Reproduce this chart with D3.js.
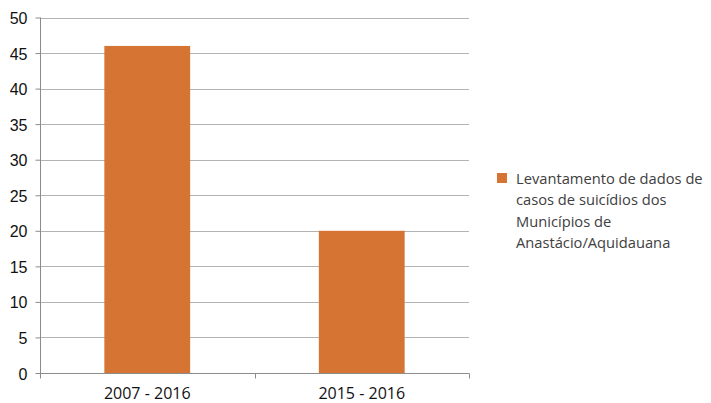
<!DOCTYPE html>
<html><head><meta charset="utf-8">
<script src="https://cdn.jsdelivr.net/npm/d3@7"></script>
<style>body{margin:0;background:#fff;} svg{display:block;font-family:"Open Sans","Noto Sans",sans-serif;}</style>
</head><body>
<svg id="c" width="711" height="403"></svg>
<script>
const categories = ["2007 - 2016", "2015 - 2016"];
const values = [46, 20];
const yTicks = [0, 5, 10, 15, 20, 25, 30, 35, 40, 45, 50];
const seriesName = ["Levantamento de dados de", "casos de suicídios dos", "Municípios de", "Anastácio/Aquidauana"];

(function () {
const svg = d3.select("#c");
const pL = 40, pR = 469, pT = 17.5, pB = 373;
const x = d3.scaleBand().domain(categories).range([pL, pR]).paddingInner(0.6).paddingOuter(0.3);
const xb = d3.scaleBand().domain(categories).range([pL, pR]);
const y = d3.scaleLinear().domain([0, 50]).range([pB, pT]);

// gridlines
svg.append("g").selectAll("line").data(yTicks.filter(d => d > 0)).join("line")
  .attr("x1", pL).attr("x2", pR)
  .attr("y1", d => Math.round(y(d)) + 0.5).attr("y2", d => Math.round(y(d)) + 0.5)
  .attr("stroke", "#b3b3b3").attr("stroke-width", 1);

// bars
svg.append("g").selectAll("rect").data(values).join("rect")
  .attr("x", (d, i) => x(categories[i]))
  .attr("width", x.bandwidth())
  .attr("y", d => y(d))
  .attr("height", d => y(0) - y(d))
  .attr("fill", "#d57433");

// y axis
const ya = svg.append("g").attr("transform", `translate(${pL + 0.5},0)`)
  .call(d3.axisLeft(y).tickValues(yTicks).tickSize(5).tickPadding(8));
ya.select(".domain").attr("stroke", "#8c8c8c").attr("d", `M0,${pT}V${pB + 5}`);
ya.selectAll(".tick line").attr("stroke", "#8c8c8c");
ya.selectAll(".tick text").attr("fill", "#111").style("font-size", "16px").attr("dy", "0.38em");

// x axis
const xa = svg.append("g").attr("transform", `translate(0,${Math.round(pB) + 0.5})`);
xa.append("line").attr("x1", pL).attr("x2", pR + 0.5).attr("stroke", "#8c8c8c");
const edges = [pL, ...categories.map(c => xb(c) + xb.bandwidth())];
xa.selectAll(".tk").data(edges).join("line").attr("class", "tk")
  .attr("x1", d => Math.round(d) + 0.5).attr("x2", d => Math.round(d) + 0.5)
  .attr("y1", 0).attr("y2", 5).attr("stroke", "#8c8c8c");
xa.selectAll("text").data(categories).join("text")
  .attr("x", d => xb(d) + xb.bandwidth() / 2).attr("y", 25)
  .attr("text-anchor", "middle").attr("fill", "#111").style("font-size", "16px").text(d => d);

// legend
const lg = svg.append("g");
lg.append("rect").attr("x", 497).attr("y", 173).attr("width", 10).attr("height", 10).attr("fill", "#d57433");
lg.selectAll("text").data(seriesName).join("text")
  .attr("x", 516).attr("y", (d, i) => 184 + i * 21.3)
  .attr("fill", "#404040").style("font-size", "14.7px").text(d => d);
})();
</script>
</body></html>
